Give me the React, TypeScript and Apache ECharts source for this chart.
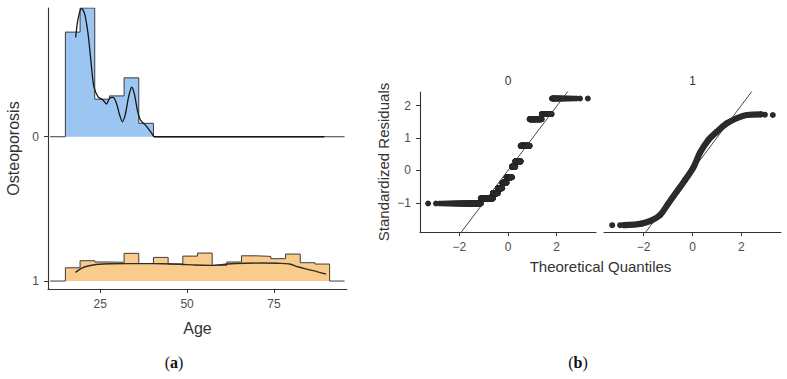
import React, { useEffect, useRef } from "react";
import * as echarts from "echarts";

// ---- (a) ridgeline of age by osteoporosis group ----
const ridgeGroups = ["0", "1"];
const ageTicks = [25, 50, 75];
const ageBinStart = 15;
const ageBinWidth = 4.222;
const ridgeLineSpan = [10.6, 95.3];
// histogram heights, in ridge units (1 = distance between two baselines)
const histGroup0 = [0.725, 0.892, 0.26, 0.283, 0.408, 0.093];
const histGroup1 = [
  0.092, 0.141, 0.132, 0.13, 0.192, 0.122, 0.164, 0.118, 0.173,
  0.194, 0.109, 0.132, 0.175, 0.171, 0.155, 0.187, 0.127, 0.118,
];
// density curves
const densAge0 = [
  17.96, 18.6, 19.6, 20.5, 21.5, 22.5, 23.2, 24.4, 25.8, 26.8, 27.7, 28.7,
  29.7, 30.6, 31.4, 32.2, 33.2, 34.1, 34.9, 35.7, 36.6, 38.3, 39.7, 40.7, 89.5,
];
const densVal0 = [
  0.688, 0.81, 0.89, 0.855, 0.717, 0.486, 0.347, 0.277, 0.255, 0.227, 0.266,
  0.273, 0.231, 0.151, 0.104, 0.151, 0.278, 0.343, 0.29, 0.185, 0.116, 0.074,
  0.028, 0, 0,
];
const densAge1 = [
  17.9, 19.6, 21.5, 24.4, 28, 33, 38, 43, 48, 52.2, 57, 61.7, 66.5, 71.3,
  76.1, 79.5, 81.8, 84.7, 87.6, 90,
];
const densVal1 = [
  0.06, 0.088, 0.104, 0.116, 0.12, 0.121, 0.121, 0.12, 0.117, 0.111, 0.109,
  0.118, 0.123, 0.125, 0.123, 0.118, 0.099, 0.081, 0.064, 0.048,
];

// ---- (b) normal Q-Q plots of standardized residuals ----
const qqFacets = ["0", "1"];
const qqSize = 979;
const quantTicks = [-2, 0, 2];
const residTicks = [-1, 0, 1, 2];
// group 0: residuals take a few distinct values
const resid0Levels = [-1.02, -0.86, -0.7, -0.55, -0.38, -0.21, 0.12, 0.28, 0.76, 1.58, 1.74, 2.22];
const resid0Counts = [129, 133, 68, 67, 69, 86, 53, 79, 112, 102, 46, 35];
// group 1: sorted residuals against theoretical quantiles
const resid1Quant = [-2.8, -2.08, -1.67, -1.33, -0.99, -0.65, -0.31, 0.03, 0.31, 0.65, 0.99, 1.4, 1.81, 2.22, 2.8];
const resid1Vals = [-1.69, -1.64, -1.54, -1.38, -1.02, -0.66, -0.3, 0.08, 0.55, 0.94, 1.19, 1.45, 1.61, 1.71, 1.73];
const resid1LowTail = [-1.69, -1.69];
const resid1HighTail = [1.72, 1.71];
// reference lines
const qqLineSlope = [0.99, 1.0];
const qqLineIntercept = [0, 0.01];

const QX_MIN = -3.62;
const QX_MAX = 3.62;

// inverse standard normal CDF (Acklam)
function qnorm(p: number): number {
  const a = [-39.69683028665376, 220.9460984245205, -275.9285104469687, 138.357751867269, -30.66479806614716, 2.506628277459239];
  const b = [-54.47609879822406, 161.5858368580409, -155.6989798598866, 66.80131188771972, -13.28068155288572];
  const c = [-0.007784894002430293, -0.3223964580411365, -2.400758277161838, -2.549732539343734, 4.374664141464968, 2.938163982698783];
  const d = [0.007784695709041462, 0.3224671290700398, 2.445134137142996, 3.754408661907416];
  const plow = 0.02425;
  if (p < plow) {
    const q = Math.sqrt(-2 * Math.log(p));
    return (((((c[0] * q + c[1]) * q + c[2]) * q + c[3]) * q + c[4]) * q + c[5]) /
      ((((d[0] * q + d[1]) * q + d[2]) * q + d[3]) * q + 1);
  }
  if (p <= 1 - plow) {
    const q = p - 0.5;
    const r = q * q;
    return ((((((a[0] * r + a[1]) * r + a[2]) * r + a[3]) * r + a[4]) * r + a[5]) * q) /
      (((((b[0] * r + b[1]) * r + b[2]) * r + b[3]) * r + b[4]) * r + 1);
  }
  const q = Math.sqrt(-2 * Math.log(1 - p));
  return -(((((c[0] * q + c[1]) * q + c[2]) * q + c[3]) * q + c[4]) * q + c[5]) /
    ((((d[0] * q + d[1]) * q + d[2]) * q + d[3]) * q + 1);
}
const ppoint = (i: number, n: number) => qnorm((i - 0.5) / n);

// step outline of a histogram sitting on baseline `base` (inverted y axis)
function histOutline(heights: number[], base: number) {
  const pts: number[][] = [[ridgeLineSpan[0], base]];
  heights.forEach((h, i) => pts.push([ageBinStart + i * ageBinWidth, base - h]));
  pts.push([ageBinStart + heights.length * ageBinWidth, base]);
  pts.push([ridgeLineSpan[1], base]);
  return pts;
}
const densityLine = (ages: number[], vals: number[], base: number) =>
  ages.map((a, i) => [a, base - vals[i]]);

function residual0Points() {
  const pts: number[][] = [];
  let rank = 1;
  resid0Levels.forEach((lv, k) => {
    for (let j = 0; j < resid0Counts[k]; j++) {
      pts.push([ppoint(rank, qqSize), lv]);
      rank++;
    }
  });
  return pts;
}
function residual1Tails() {
  return [
    [ppoint(1, qqSize), resid1LowTail[0]],
    [ppoint(2, qqSize), resid1LowTail[1]],
    [ppoint(qqSize - 1, qqSize), resid1HighTail[0]],
    [ppoint(qqSize, qqSize), resid1HighTail[1]],
  ];
}
const refLine = (k: number) => [
  [QX_MIN, qqLineSlope[k] * QX_MIN + qqLineIntercept[k]],
  [QX_MAX, qqLineSlope[k] * QX_MAX + qqLineIntercept[k]],
];

const minusFmt = (v: number) => (v < 0 ? "\u2212" + Math.abs(v) : String(v));

const AXIS_COLOR = "#333333";
const LABEL_COLOR = "#4d4d4d";
const TITLE_COLOR = "#333333";
const SANS = "Liberation Sans";
const SERIF = "Liberation Serif";
const DOT = "#2a2a2a";

function axisBase(ticks: number[], fmt: (v: number) => string) {
  return {
    type: "value" as const,
    axisLine: { show: true, onZero: false, lineStyle: { color: AXIS_COLOR, width: 1.1 } },
    axisTick: { show: true, length: 4, customValues: ticks, lineStyle: { color: AXIS_COLOR, width: 1 } },
    axisLabel: { customValues: ticks, formatter: fmt, color: LABEL_COLOR, fontSize: 12, fontFamily: SANS, margin: 9 },
    splitLine: { show: false },
  };
}

function centredText(text: string, x: number, y: number, size: number, color: string) {
  return {
    type: "text",
    x,
    y,
    style: {
      text,
      fill: color,
      fontSize: size,
      fontFamily: SANS,
      textAlign: "center",
      textVerticalAlign: "middle",
      align: "center",
      verticalAlign: "middle",
    },
  };
}

export default function App() {
  const ref = useRef<HTMLDivElement>(null);

  useEffect(() => {
    if (!ref.current) return;
    const chart = echarts.init(ref.current, undefined, { renderer: "svg" });

    const option = {
      animation: false,
      backgroundColor: "#ffffff",
      textStyle: { fontFamily: SANS },
      grid: [
        { left: 48, top: 8, width: 299, height: 281, outerBoundsMode: "none" },
        { left: 420, top: 92, width: 176, height: 140, outerBoundsMode: "none" },
        { left: 604, top: 92, width: 177, height: 140, outerBoundsMode: "none" },
      ],
      xAxis: [
        {
          ...axisBase(ageTicks, (v: number) => String(v)),
          gridIndex: 0,
          min: 10,
          max: 96,
          name: "Age",
          nameLocation: "middle",
          nameGap: 31,
          nameTextStyle: { fontSize: 16, color: TITLE_COLOR, fontFamily: SANS },
        },
        { ...axisBase(quantTicks, minusFmt), gridIndex: 1, min: QX_MIN, max: QX_MAX },
        { ...axisBase(quantTicks, minusFmt), gridIndex: 2, min: QX_MIN, max: QX_MAX },
      ],
      yAxis: [
        {
          ...axisBase([0, 1], (v: number) => ridgeGroups[Math.round(v)]),
          gridIndex: 0,
          inverse: true,
          min: -0.892,
          max: 1.055,
          name: "Osteoporosis",
          nameLocation: "middle",
          nameGap: 27,
          nameRotate: 90,
          nameTextStyle: { fontSize: 16, color: TITLE_COLOR, fontFamily: SANS },
        },
        {
          ...axisBase(residTicks, minusFmt),
          gridIndex: 1,
          min: -1.9,
          max: 2.42,
          name: "Standardized Residuals",
          nameLocation: "middle",
          nameGap: 29,
          nameRotate: 90,
          nameTextStyle: { fontSize: 15, color: TITLE_COLOR, fontFamily: SANS },
        },
        { type: "value", gridIndex: 2, min: -1.9, max: 2.42, show: false, splitLine: { show: false } },
      ],
      series: [
        {
          type: "line",
          xAxisIndex: 0,
          yAxisIndex: 0,
          step: "end",
          symbol: "none",
          data: histOutline(histGroup0, 0),
          lineStyle: { color: "#3c3c3c", width: 1 },
          areaStyle: { color: "#9cc6f1", opacity: 1, origin: 0 },
          z: 2,
        },
        {
          type: "line",
          xAxisIndex: 0,
          yAxisIndex: 0,
          smooth: 0.3,
          symbol: "none",
          data: densityLine(densAge0, densVal0, 0),
          lineStyle: { color: "#151515", width: 1.3 },
          z: 3,
        },
        {
          type: "line",
          xAxisIndex: 0,
          yAxisIndex: 0,
          step: "end",
          symbol: "none",
          data: histOutline(histGroup1, 1),
          lineStyle: { color: "#3c3c3c", width: 1 },
          areaStyle: { color: "#f9cc8c", opacity: 1, origin: 1 },
          z: 2,
        },
        {
          type: "line",
          xAxisIndex: 0,
          yAxisIndex: 0,
          smooth: 0.3,
          symbol: "none",
          data: densityLine(densAge1, densVal1, 1),
          lineStyle: { color: "#2e2e26", width: 1.4 },
          z: 3,
        },
        {
          type: "scatter",
          xAxisIndex: 1,
          yAxisIndex: 1,
          symbolSize: 6,
          data: residual0Points(),
          itemStyle: { color: DOT, opacity: 1 },
          z: 2,
        },
        {
          type: "line",
          xAxisIndex: 1,
          yAxisIndex: 1,
          symbol: "none",
          data: refLine(0),
          lineStyle: { color: "#333333", width: 0.9 },
          z: 3,
        },
        {
          type: "line",
          xAxisIndex: 2,
          yAxisIndex: 2,
          smooth: 0.35,
          symbol: "circle",
          symbolSize: 6,
          itemStyle: { color: DOT },
          data: resid1Quant.map((q, i) => [q, resid1Vals[i]]),
          lineStyle: { color: DOT, width: 6.2, cap: "round", join: "round" },
          z: 2,
        },
        {
          type: "scatter",
          xAxisIndex: 2,
          yAxisIndex: 2,
          symbolSize: 6,
          data: residual1Tails(),
          itemStyle: { color: DOT, opacity: 1 },
          z: 2,
        },
        {
          type: "line",
          xAxisIndex: 2,
          yAxisIndex: 2,
          symbol: "none",
          data: refLine(1),
          lineStyle: { color: "#333333", width: 0.9 },
          z: 3,
        },
      ],
      graphic: [
        centredText(qqFacets[0], 508, 81, 12, "#333333"),
        centredText(qqFacets[1], 692.5, 81, 12, "#333333"),
        centredText("Theoretical Quantiles", 600.5, 266.5, 15, TITLE_COLOR),
        ...["a", "b"].map((letter, i) => ({
          type: "text",
          x: i === 0 ? 174 : 578,
          y: 362.5,
          style: {
            text: `{p|(}{l|${letter}}{p|)}`,
            fill: "#111111",
            fontSize: 16,
            fontFamily: SERIF,
            textAlign: "center",
            textVerticalAlign: "middle",
            align: "center",
            verticalAlign: "middle",
            rich: {
              p: { fontFamily: SERIF, fontSize: 16, color: "#111111" },
              l: { fontFamily: SERIF, fontSize: 16, fontWeight: "bold", color: "#111111" },
            },
          },
        })),
      ],
    };

    chart.setOption(option as any);
    return () => chart.dispose();
  }, []);

  return (
    <div
      ref={ref}
      style={{ position: "fixed", left: 0, top: 0, width: 787, height: 379, background: "#fff" }}
    />
  );
}
